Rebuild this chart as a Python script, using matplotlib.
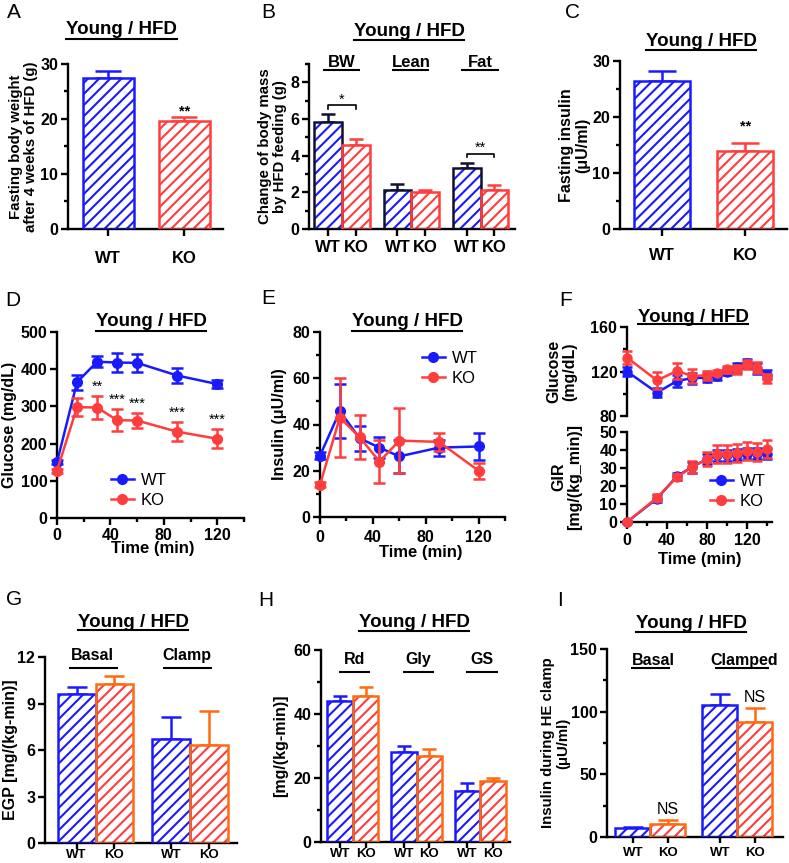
import matplotlib
matplotlib.use('Agg')
import matplotlib.pyplot as plt
from matplotlib.ticker import MultipleLocator, FixedLocator
from matplotlib.lines import Line2D

plt.rcParams['font.family'] = ['Liberation Sans', 'DejaVu Sans']
plt.rcParams['font.weight'] = 'bold'
plt.rcParams['hatch.linewidth'] = 1.5
plt.rcParams['axes.linewidth'] = 1.7

BLUE = '#1a1aff'
RED = '#ff3d3d'
ORANGE = '#ff6a10'
DARK = '#101030'

# ---------------- data ----------------
ab_labels = ['WT', 'KO']
a_mean = [27.5, 19.6]
a_err = [1.2, 0.7]
a_sig = ['', '**']

b_groups = ['BW', 'Lean', 'Fat']
b_wt = [5.85, 2.15, 3.35]
b_wt_err = [0.4, 0.3, 0.25]
b_ko = [4.6, 2.0, 2.1]
b_ko_err = [0.3, 0.15, 0.3]
b_sig = ['*', '', '**']

c_mean = [26.5, 14.0]
c_err = [1.8, 1.4]
c_sig = ['', '**']

d_time = [0, 15, 30, 45, 60, 90, 120]
d_wt = [150, 365, 420, 418, 417, 383, 360]
d_wt_err = [6, 20, 15, 25, 25, 20, 10]
d_ko = [127, 298, 297, 263, 262, 232, 213]
d_ko_err = [5, 25, 30, 30, 20, 25, 25]
d_sig = ['', '', '**', '***', '***', '***', '***']

e_time = [0, 15, 30, 45, 60, 90, 120]
e_wt = [26.5, 45.8, 34.0, 30.0, 26.2, 30.0, 30.5]
e_wt_err = [1.5, 11.5, 5.5, 4.5, 7.0, 3.5, 6.0]
e_ko = [14.0, 43.0, 34.5, 24.0, 33.0, 32.5, 20.0]
e_ko_err = [1.0, 17.0, 9.5, 9.5, 14.0, 4.0, 3.5]

f_time = [0, 30, 50, 65, 80, 90, 100, 110, 120, 130, 140]
f_glu_wt = [120, 101, 111.5, 114, 114.5, 116, 120, 124, 127.5, 122.5, 117]
f_glu_wt_err = [4, 4, 5, 5, 4, 4, 3, 4, 4, 5, 4]
f_glu_ko = [132.5, 112, 120.5, 116, 116.5, 119, 122, 122, 126.5, 123.5, 114]
f_glu_ko_err = [6, 8, 7, 6, 4, 2, 3, 4, 4, 5, 4]
f_gir_wt = [0, 13, 25.5, 30.5, 35, 37, 37, 37.5, 38, 38, 38]
f_gir_wt_err = [0.5, 2, 2, 3, 3, 3, 3, 3, 3, 3, 3]
f_gir_ko = [0, 13.5, 25, 30.5, 35, 38, 38, 38.5, 39.5, 39, 40.5]
f_gir_ko_err = [0.5, 2, 1.5, 3.5, 4, 5, 5, 5, 5, 5, 5]

g_groups = ['Basal', 'Clamp']
g_wt = [9.6, 6.7]
g_wt_err = [0.45, 1.4]
g_ko = [10.25, 6.3]
g_ko_err = [0.5, 2.2]

h_groups = ['Rd', 'Gly', 'GS']
h_wt = [44, 28, 16]
h_wt_err = [1.5, 2.0, 2.3]
h_ko = [45.5, 27, 19]
h_ko_err = [3.0, 2.0, 1.0]

i_groups = ['Basal', 'Clamped']
i_wt = [7.5, 105]
i_wt_err = [0.4, 9]
i_ko = [10.5, 92]
i_ko_err = [2.8, 11]
i_sig = ['NS', 'NS']

TITLE = 'Young / HFD'

# ---------------- figure ----------------
W, H = 789, 863
fig = plt.figure(figsize=(W / 100, H / 100), dpi=100)


def px_axes(l, t, r, b):
    return fig.add_axes([l / W, 1 - b / H, (r - l) / W, (b - t) / H])


def base_style(ax, xsize=11.5, ysize=11.5, xpad=3, ypad=2, xlen=5):
    ax.spines['top'].set_visible(False)
    ax.spines['right'].set_visible(False)
    ax.tick_params(which='major', direction='out', length=5, width=1.7)
    ax.tick_params(which='minor', direction='out', length=3, width=1.7)
    ax.tick_params(axis='x', which='major', length=xlen)
    ax.tick_params(axis='x', which='both', labelsize=xsize, pad=xpad)
    ax.tick_params(axis='y', which='both', labelsize=ysize, pad=ypad)


def hatched_bars(ax, x, h, w, hatch_c, edge_c, err, capsize, err_c=None):
    err_c = err_c or edge_c
    ax.bar(x, h, w, color='white', edgecolor=hatch_c, hatch='///', linewidth=0, zorder=2)
    ax.bar(x, h, w, fill=False, edgecolor=edge_c, linewidth=1.8, zorder=3)
    ax.errorbar(x, h, yerr=[[0] * len(x), err], fmt='none', ecolor=err_c,
                elinewidth=1.8, capsize=capsize, capthick=1.8, zorder=1)


def ylab(ax, text, xr, size=11):
    ax.set_ylabel(text, fontsize=size, fontweight='bold', linespacing=1.05)
    ax.yaxis.set_label_coords(xr, 0.5)


def group_label(ax, xc, yt, yl, x0, x1, text, size=11.5):
    ax.text(xc, yt, text, ha='center', va='center', fontsize=size,
            fontweight='bold', clip_on=False)
    ax.plot([x0, x1], [yl, yl], color='black', lw=1.5, clip_on=False,
            solid_capstyle='butt')


titles = []


def title_ul(cx, cy, uy):
    t = fig.text(cx / W, 1 - cy / H, TITLE, ha='center', va='center',
                 fontsize=13.5, fontweight='bold')
    titles.append((t, uy))


def letter(x, y, s):
    fig.text(x / W, 1 - y / H, s, ha='center', va='center', fontsize=15,
             fontweight='normal')


def legend(ax, x, y):
    hs = [Line2D([], [], color=BLUE, marker='o', ms=7, lw=1.8),
          Line2D([], [], color=RED, marker='o', ms=7, lw=1.8)]
    ax.legend(hs, ['WT', 'KO'], loc='upper left',
              bbox_to_anchor=(x / W, 1 - y / H), bbox_transform=fig.transFigure,
              frameon=False, borderpad=0, borderaxespad=0, handlelength=1.35,
              handletextpad=0.45, labelspacing=0.3,
              prop={'size': 12, 'weight': 'normal'})


# ---------------- A ----------------
axA = px_axes(68, 64, 223, 229)
base_style(axA, xsize=12, xpad=11)
hatched_bars(axA, [0], [a_mean[0]], 0.67, BLUE, BLUE, [a_err[0]], 9.5)
hatched_bars(axA, [1], [a_mean[1]], 0.67, RED, RED, [a_err[1]], 9.5)
axA.set_xlim(-0.53, 1.51)
axA.set_ylim(0, 30)
axA.set_xticks([0, 1])
axA.set_xticklabels(ab_labels)
axA.yaxis.set_major_locator(FixedLocator([0, 10, 20, 30]))
axA.yaxis.set_minor_locator(FixedLocator([5, 15, 25]))
for i, s in enumerate(a_sig):
    if s:
        axA.annotate(s, (i, a_mean[i] + a_err[i]), xytext=(0, 4.5),
                     textcoords='offset points', ha='center', va='center',
                     fontsize=10.5)
ylab(axA, 'Fasting body weight\nafter 4 weeks of HFD (g)', (38 - 68) / 155, 10.8)
title_ul(121.5, 30, 39)
letter(14, 13, 'A')

# ---------------- B ----------------
axB = px_axes(309, 64, 515, 229)
base_style(axB, xsize=12, xpad=3)
bx_wt = [2.5 * g for g in range(3)]
bx_ko = [2.5 * g + 1 for g in range(3)]
hatched_bars(axB, bx_wt, b_wt, 1.0, BLUE, DARK, b_wt_err, 5)
hatched_bars(axB, bx_ko, b_ko, 1.0, RED, RED, b_ko_err, 5)
axB.set_xlim(-0.69, 6.74)
axB.set_ylim(0, 9)
axB.set_xticks(bx_wt + bx_ko)
axB.set_xticklabels(['WT'] * 3 + ['KO'] * 3)
axB.yaxis.set_major_locator(FixedLocator([0, 2, 4, 6, 8]))
axB.yaxis.set_minor_locator(FixedLocator([1, 3, 5, 7, 9]))
for g, lab in enumerate(b_groups):
    group_label(axB, bx_wt[g] + 0.5, 9.1, 8.67, bx_wt[g] - 0.2, bx_wt[g] + 1.15, lab, 12)
for g, s in enumerate(b_sig):
    if s:
        top = max(b_wt[g] + b_wt_err[g], b_ko[g] + b_ko_err[g]) + 0.5
        axB.plot([bx_wt[g], bx_wt[g], bx_ko[g], bx_ko[g]],
                 [top - 0.2, top, top, top - 0.2], color='black', lw=1.2)
        axB.text((bx_wt[g] + bx_ko[g]) / 2, top + 0.32, s, ha='center',
                 va='center', fontsize=10.5, fontweight='normal')
ylab(axB, 'Change of body mass\nby HFD feeding (g)', (287 - 309) / 206, 10.8)
title_ul(409, 32, 40)
letter(268, 13, 'B')

# ---------------- C ----------------
axC = px_axes(620, 61, 787, 229)
base_style(axC, xsize=12, xpad=9)
hatched_bars(axC, [0], [c_mean[0]], 0.67, BLUE, BLUE, [c_err[0]], 10)
hatched_bars(axC, [1], [c_mean[1]], 0.67, RED, RED, [c_err[1]], 10)
axC.set_xlim(-0.5, 1.5)
axC.set_ylim(0, 30)
axC.set_xticks([0, 1])
axC.set_xticklabels(ab_labels)
axC.yaxis.set_major_locator(FixedLocator([0, 10, 20, 30]))
axC.yaxis.set_minor_locator(FixedLocator([5, 15, 25]))
for i, s in enumerate(c_sig):
    if s:
        axC.annotate(s, (i, c_mean[i] + c_err[i]), xytext=(0, 12),
                     textcoords='offset points', ha='center', va='center',
                     fontsize=10.5)
ylab(axC, 'Fasting insulin\n(μU/ml)', (590 - 620) / 167, 11.5)
title_ul(701, 42, 50)
letter(572, 13, 'C')

# ---------------- D ----------------
axD = px_axes(57, 332, 244, 518)
base_style(axD, xpad=2)
axD.errorbar(d_time, d_wt, yerr=d_wt_err, color=BLUE, marker='o', ms=7, lw=1.8,
             elinewidth=1.8, capsize=4.5, capthick=1.8, clip_on=False, zorder=3)
axD.errorbar(d_time, d_ko, yerr=d_ko_err, color=RED, marker='o', ms=7, lw=1.8,
             elinewidth=1.8, capsize=4.5, capthick=1.8, clip_on=False, zorder=4)
axD.set_xlim(0, 140)
axD.set_ylim(0, 500)
axD.xaxis.set_major_locator(FixedLocator([0, 40, 80, 120]))
axD.xaxis.set_minor_locator(FixedLocator([20, 60, 100, 140]))
axD.yaxis.set_major_locator(MultipleLocator(100))
for t, m, e, s in zip(d_time, d_ko, d_ko_err, d_sig):
    if s:
        axD.annotate(s, (t, m + e), xytext=(0, 7), textcoords='offset points',
                     ha='center', va='center', fontsize=10.5, fontweight='normal')
ylab(axD, 'Glucose (mg/dL)', (17 - 57) / 187, 11.5)
axD.set_xlabel('Time (min)', fontsize=12, fontweight='bold')
axD.xaxis.set_label_coords(0.513, -0.125)
legend(axD, 111, 473)
title_ul(151, 322, 331)
letter(13, 300, 'D')

# ---------------- E ----------------
axE = px_axes(320, 332, 505, 517)
base_style(axE, xpad=4)
axE.errorbar(e_time, e_wt, yerr=e_wt_err, color=BLUE, marker='o', ms=7, lw=1.8,
             elinewidth=1.8, capsize=4.5, capthick=1.8, clip_on=False, zorder=3)
axE.errorbar(e_time, e_ko, yerr=e_ko_err, color=RED, marker='o', ms=7, lw=1.8,
             elinewidth=1.8, capsize=4.5, capthick=1.8, clip_on=False, zorder=4)
axE.set_xlim(0, 140)
axE.set_ylim(0, 80)
axE.xaxis.set_major_locator(FixedLocator([0, 40, 80, 120]))
axE.xaxis.set_minor_locator(FixedLocator([20, 60, 100, 140]))
axE.yaxis.set_major_locator(MultipleLocator(20))
axE.yaxis.set_minor_locator(FixedLocator([10, 30, 50, 70]))
ylab(axE, 'Insulin (μU/ml)', (287 - 320) / 185, 11.5)
axE.set_xlabel('Time (min)', fontsize=12, fontweight='bold')
axE.xaxis.set_label_coords(0.546, -0.15)
legend(axE, 422, 351)
title_ul(407, 322, 331)
letter(268, 298, 'E')

# ---------------- F ----------------
axF1 = px_axes(627, 327, 772, 416)
base_style(axF1)
axF1.spines['bottom'].set_visible(False)
axF1.tick_params(axis='x', which='both', bottom=False, labelbottom=False)
axF1.errorbar(f_time, f_glu_wt, yerr=f_glu_wt_err, color=BLUE, marker='o', ms=6.5,
              lw=1.8, elinewidth=1.8, capsize=3.5, capthick=1.8, clip_on=False, zorder=3)
axF1.errorbar(f_time, f_glu_ko, yerr=f_glu_ko_err, color=RED, marker='o', ms=6.5,
              lw=1.8, elinewidth=1.8, capsize=3.5, capthick=1.8, clip_on=False, zorder=4)
axF1.set_xlim(0, 145)
axF1.set_ylim(80, 160)
axF1.yaxis.set_major_locator(FixedLocator([80, 120, 160]))
axF1.yaxis.set_minor_locator(FixedLocator([100, 140]))
ylab(axF1, 'Glucose\n(mg/dL)', (577 - 627) / 145, 11.5)

axF2 = px_axes(627, 432, 772, 522)
base_style(axF2, xpad=3)
axF2.errorbar(f_time, f_gir_wt, yerr=f_gir_wt_err, color=BLUE, marker='o', ms=6.5,
              lw=1.8, elinewidth=1.8, capsize=3.5, capthick=1.8, clip_on=False, zorder=3)
axF2.errorbar(f_time, f_gir_ko, yerr=f_gir_ko_err, color=RED, marker='o', ms=6.5,
              lw=1.8, elinewidth=1.8, capsize=3.5, capthick=1.8, clip_on=False, zorder=4)
axF2.set_xlim(0, 145)
axF2.set_ylim(0, 50)
axF2.xaxis.set_major_locator(FixedLocator([0, 40, 80, 120]))
axF2.xaxis.set_minor_locator(FixedLocator([20, 60, 100, 140]))
axF2.yaxis.set_major_locator(MultipleLocator(10))
ylab(axF2, 'GIR\n[mg/(kg_min)]', (582 - 627) / 145, 11.5)
axF2.set_xlabel('Time (min)', fontsize=12, fontweight='bold')
axF2.xaxis.set_label_coords(0.5, -0.33)
legend(axF2, 710, 474)
title_ul(693, 317, 324)
letter(566, 300, 'F')

# ---------------- G ----------------
axG = px_axes(45, 657, 237, 843)
base_style(axG, xsize=9.5, xpad=0.5, xlen=4)
gx_wt = [2.5 * g for g in range(2)]
gx_ko = [2.5 * g + 1 for g in range(2)]
hatched_bars(axG, gx_wt, g_wt, 1.0, BLUE, BLUE, g_wt_err, 7.5)
hatched_bars(axG, gx_ko, g_ko, 1.0, RED, ORANGE, g_ko_err, 7.5)
axG.set_xlim(-0.84, 4.25)
axG.set_ylim(0, 12)
axG.set_xticks(gx_wt + gx_ko)
axG.set_xticklabels(['WT'] * 2 + ['KO'] * 2)
axG.yaxis.set_major_locator(FixedLocator([0, 3, 6, 9, 12]))
for g, lab in enumerate(g_groups):
    group_label(axG, gx_wt[g] + 0.42, 12.1, 11.3, gx_wt[g] - 0.21, gx_wt[g] + 1.1, lab)
ylab(axG, 'EGP [mg/(kg-min)]', (18 - 45) / 192, 11.5)
title_ul(133, 622, 630)
letter(14, 599, 'G')

# ---------------- H ----------------
axH = px_axes(321, 650, 510, 842)
base_style(axH, xsize=9.5, xpad=0.5, xlen=4)
hx_wt = [2.5 * g for g in range(3)]
hx_ko = [2.5 * g + 1 for g in range(3)]
hatched_bars(axH, hx_wt, h_wt, 1.0, BLUE, BLUE, h_wt_err, 5)
hatched_bars(axH, hx_ko, h_ko, 1.0, RED, ORANGE, h_ko_err, 5)
axH.set_xlim(-0.75, 6.67)
axH.set_ylim(0, 60)
axH.set_xticks(hx_wt + hx_ko)
axH.set_xticklabels(['WT'] * 3 + ['KO'] * 3)
axH.yaxis.set_major_locator(FixedLocator([0, 20, 40, 60]))
axH.yaxis.set_minor_locator(FixedLocator([10, 30, 50]))
for g, lab in enumerate(h_groups):
    group_label(axH, hx_wt[g] + 0.55, 56.9, 53.1, hx_wt[g] - 0.04, hx_wt[g] + 1.18, lab)
ylab(axH, '[mg/(kg-min)]', (288 - 321) / 189, 11.5)
title_ul(414, 622, 631)
letter(266, 601, 'H')

# ---------------- I ----------------
axI = px_axes(607, 649, 783, 837)
base_style(axI, xsize=9.5, xpad=3, xlen=4)
ix_wt = [2.5 * g for g in range(2)]
ix_ko = [2.5 * g + 1 for g in range(2)]
hatched_bars(axI, ix_wt, i_wt, 1.0, BLUE, BLUE, i_wt_err, 7)
hatched_bars(axI, ix_ko, i_ko, 1.0, RED, ORANGE, i_ko_err, 7)
axI.set_xlim(-0.74, 4.31)
axI.set_ylim(0, 150)
axI.set_xticks(ix_wt + ix_ko)
axI.set_xticklabels(['WT'] * 2 + ['KO'] * 2)
axI.yaxis.set_major_locator(FixedLocator([0, 50, 100, 150]))
axI.yaxis.set_minor_locator(FixedLocator([25, 75, 125]))
i_lab_off = [0.6, 0.71]
i_line = [(-0.06, 1.06), (-0.14, 1.4)]
for g, lab in enumerate(i_groups):
    group_label(axI, ix_wt[g] + i_lab_off[g], 141, 134.8,
                ix_wt[g] + i_line[g][0], ix_wt[g] + i_line[g][1], lab)
for g, s in enumerate(i_sig):
    axI.annotate(s, (ix_ko[g], i_ko[g] + i_ko_err[g]), xytext=(0, 7.5),
                 textcoords='offset points', ha='center', va='center',
                 fontsize=11.5, fontweight='normal')
ylab(axI, 'Insulin during HE clamp\n(μU/ml)', (570 - 607) / 176, 10.8)
title_ul(691, 623, 632)
letter(560, 601, 'I')

# ---------------- title underlines ----------------
fig.canvas.draw()
r = fig.canvas.get_renderer()
for t, uy in titles:
    bb = t.get_window_extent(r)
    fig.add_artist(Line2D([bb.x0 / W, bb.x1 / W], [1 - uy / H, 1 - uy / H],
                          transform=fig.transFigure, color='black', lw=1.5))

fig.savefig('out.png', dpi=100)
